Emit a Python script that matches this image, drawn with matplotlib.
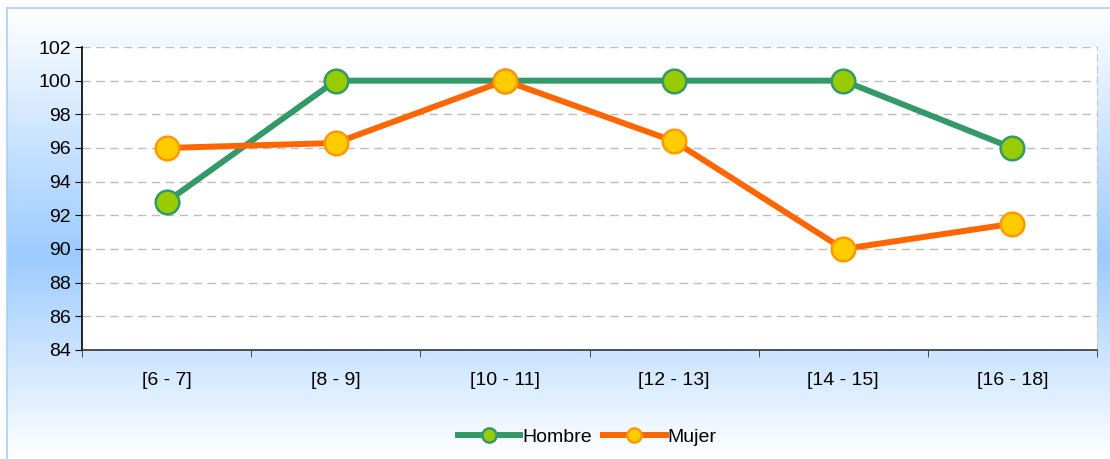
import numpy as np
import matplotlib.pyplot as plt
from matplotlib.colors import LinearSegmentedColormap

plt.rcParams['font.family'] = ['Liberation Sans', 'DejaVu Sans']

categories = ["[6 - 7]", "[8 - 9]", "[10 - 11]", "[12 - 13]", "[14 - 15]", "[16 - 18]"]
hombre = [92.8, 100, 100, 100, 100, 96]
mujer = [96, 96.3, 100, 96.4, 90, 91.5]
yticks = [84, 86, 88, 90, 92, 94, 96, 98, 100, 102]

fig = plt.figure(figsize=(11.1, 4.59), dpi=100)

# background panel with vertical gradient
bg = fig.add_axes([7 / 1110, 0, 1 - 7 / 1110, 1 - 8 / 459], zorder=-5)
cmap = LinearSegmentedColormap.from_list(
    "bg", [(0, "#ffffff"), (0.55, "#9ccbff"), (1, "#ffffff")])
grad = np.linspace(0, 1, 256).reshape(-1, 1)
bg.imshow(grad, aspect="auto", cmap=cmap, extent=[0, 1, 0, 1], origin="upper")
bg.set_xticks([])
bg.set_yticks([])
for s in ["right", "bottom"]:
    bg.spines[s].set_visible(False)
for s in ["top", "left"]:
    bg.spines[s].set_color("#a8d0f8")
    bg.spines[s].set_linewidth(1.2)

ax = fig.add_axes([82 / 1110, 1 - 350 / 459, (1097 - 82) / 1110, (350 - 47) / 459])
ax.set_facecolor("white")

x = np.arange(len(categories))
ax.plot(x, hombre, color="#339966", lw=4.3, marker="o", ms=17,
        mfc="#99cc00", mec="#339966", mew=1.8, label="Hombre", zorder=3)
ax.plot(x, mujer, color="#ff6600", lw=4.3, marker="o", ms=17,
        mfc="#ffcc00", mec="#ff9900", mew=1.8, label="Mujer", zorder=3)

ax.set_xlim(-0.5, len(categories) - 0.5)
ax.set_ylim(84, 102)
ax.set_yticks(yticks)
ax.set_yticklabels([str(v) for v in yticks], fontsize=14)
ax.set_xticks(x)
ax.set_xticklabels(categories, fontsize=14)
ax.set_xticks(np.arange(-0.5, len(categories)), minor=True)
ax.tick_params(axis="x", which="major", length=0, pad=16)
ax.tick_params(axis="x", which="minor", length=5, direction="out", color="#333333")
ax.tick_params(axis="y", length=5, direction="out", pad=3)

ax.grid(axis="y", color="#bdbdbd", linestyle=(0, (6, 4)), lw=1)
ax.set_axisbelow(True)
ax.spines["top"].set_visible(False)
ax.spines["right"].set_color("#c8c8c8")
ax.spines["right"].set_linestyle((0, (6, 4)))
ax.spines["left"].set_color("black")
ax.spines["bottom"].set_color("#333333")
ax.spines["left"].set_linewidth(1.2)
ax.spines["bottom"].set_linewidth(1.2)

fig.legend(loc="center", bbox_to_anchor=(0.529, 1 - 437 / 459), ncol=2, frameon=False,
           fontsize=14, handlelength=3.2, handletextpad=0.1, columnspacing=0.6,
           markerscale=0.6)

fig.savefig("out.png", dpi=100)
